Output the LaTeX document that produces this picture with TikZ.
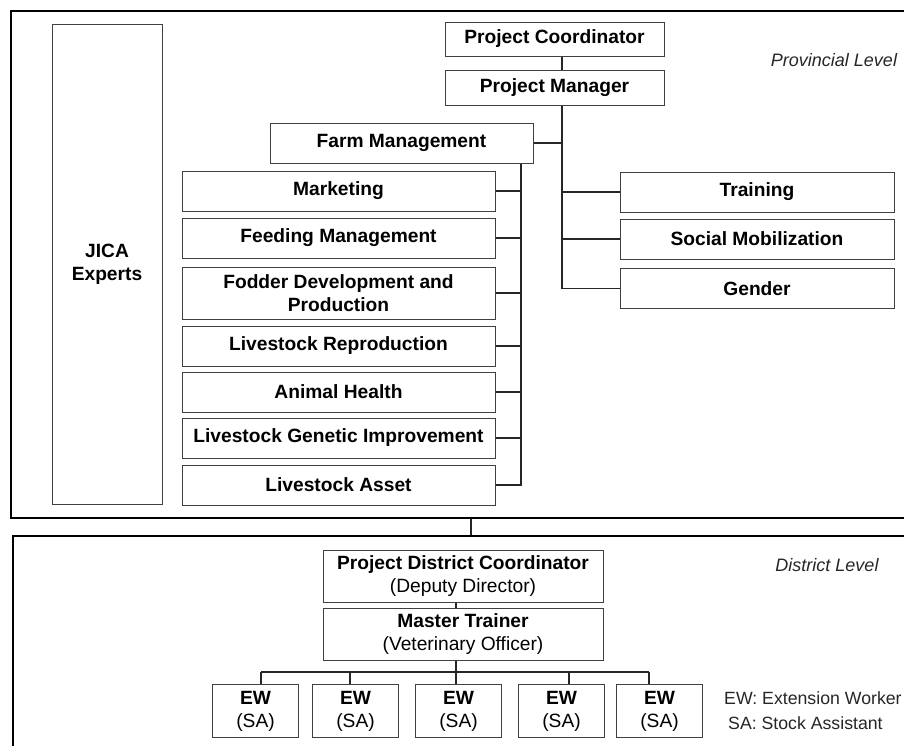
\documentclass[tikz,border=0pt]{standalone}
\usepackage{fontspec}
\setmainfont{Liberation Sans}
\usetikzlibrary{positioning}

\begin{document}
\begin{tikzpicture}[x=1pt,y=-1pt,
    unit/.style={draw=black!75, line width=1pt, fill=white, inner sep=0pt,
        align=center, font=\fontsize{19.2}{23}\selectfont\bfseries},
    link/.style={draw=black!85, line width=1.2pt},
    frame/.style={draw=black, line width=2pt, inner sep=0pt, anchor=north west},
    level/.style={font=\fontsize{18}{22}\selectfont\itshape, text=black!85},
    legend/.style={font=\fontsize{17.7}{22}\selectfont, text=black!85, inner sep=0pt, anchor=base west}]
    \useasboundingbox (0,0) rectangle (904,745);
    \clip (0,0) rectangle (904,745);

    % the two levels
    \node[frame, minimum width=920, minimum height=507] (prov) at (10,10) {};
    \node[frame, minimum width=916, minimum height=240] (dist) at (12,535) {};
    \draw[link] (prov.south) -- (dist.north);
    \node[level] (provlbl) at (834,60) {Provincial Level};
    \node[level] (distlbl) at (827,565) {District Level};

    % provincial level
    \node[unit, minimum width=110, minimum height=480] (jica) at (107,264) {JICA\\Experts};
    \node[unit, minimum width=219, minimum height=34] (pc) at (554.5,39) {Project Coordinator};
    \node[unit, minimum width=219, minimum height=35] (pm) at (554.5,87.5) {Project Manager};
    \node[unit, minimum width=263, minimum height=40] (fm) at (401.5,143) {Farm Management};
    \foreach \nm/\y/\h/\txt in {mkt/191/40/Marketing,
                                feed/238/40/Feeding Management,
                                fod/293/52/{Fodder Development and\\Production},
                                rep/346/40/Livestock Reproduction,
                                hea/392/40/Animal Health,
                                gen/438/40/Livestock Genetic Improvement,
                                ast/485/40/Livestock Asset}
        \node[unit, minimum width=313, minimum height=\h] (\nm) at (338.5,\y) {\txt};
    \foreach \nm/\y/\txt in {train/192/Training, soc/239/Social Mobilization, gend/288.5/Gender}
        \node[unit, minimum width=274, minimum height=40] (\nm) at (757,\y) {\txt};

    \coordinate (spine) at (562,0);
    \coordinate (bracket) at (521,0);
    \draw[link] (pc.south -| spine) -- (pm.north -| spine);
    \draw[link] (pm.south -| spine) -- (gend.west -| spine) -- (gend.west);
    \draw[link] (fm.east) -- (fm.east -| spine);
    \foreach \nm in {train,soc}
        \draw[link] (\nm.west -| spine) -- (\nm.west);
    \draw[link] (fm.south -| bracket) -- (ast.east -| bracket) -- (ast.east);
    \foreach \nm in {mkt,feed,fod,rep,hea,gen}
        \draw[link] (\nm.east) -- (\nm.east -| bracket);

    % district level
    \node[unit, minimum width=280, minimum height=52] (pdc) at (463,576)
        {Project District Coordinator\\\mdseries(Deputy Director)};
    \node[unit, minimum width=280, minimum height=52] (mt) at (463,634)
        {Master Trainer\\\mdseries(Veterinary Officer)};
    \coordinate (dspine) at (456,0);
    \coordinate (bus) at (0,672);
    \foreach \i/\x/\dx in {1/255.5/261, 2/355.5/350, 3/458.5/456, 4/561.5/569, 5/659.5/649} {
        \node[unit, minimum width=86, minimum height=53] (ew\i) at (\x,711) {EW\\\mdseries(SA)};
        \coordinate (drop\i) at (\dx,0);
        \draw[link] (bus -| drop\i) -- (ew\i.north -| drop\i);
    }
    \draw[link] (pdc.south -| dspine) -- (mt.north -| dspine);
    \draw[link] (mt.south -| dspine) -- (bus -| dspine);
    \draw[link] (bus -| drop1) -- (bus -| drop5);

    \node[legend] (ewlbl) at (724,704) {EW: Extension Worker};
    \node[legend] (salbl) at (728,729) {SA: Stock Assistant};
\end{tikzpicture}
\end{document}
